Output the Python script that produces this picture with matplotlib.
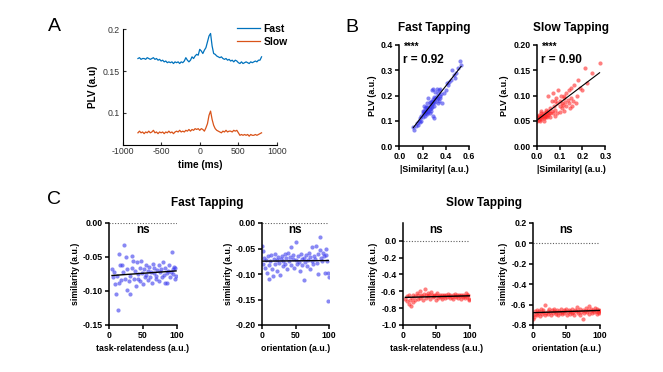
import numpy as np
import matplotlib
matplotlib.use('Agg')
import matplotlib.pyplot as plt

plt.rcParams['font.family'] = ['Liberation Sans', 'DejaVu Sans']
plt.rcParams['axes.unicode_minus'] = False

# ---- panel A: PLV over time
time_ms = np.arange(-800, 801, 20)
plv_fast = [0.165, 0.166, 0.164, 0.165, 0.165, 0.164, 0.166, 0.165, 0.164, 0.165,
            0.166, 0.164, 0.165, 0.163, 0.164, 0.162, 0.163, 0.161, 0.162, 0.160,
            0.161, 0.160, 0.161, 0.159, 0.161, 0.160, 0.161, 0.159, 0.161, 0.160,
            0.162, 0.166, 0.163, 0.161, 0.163, 0.167, 0.165, 0.168, 0.170, 0.169,
            0.176, 0.174, 0.171, 0.175, 0.178, 0.185, 0.192, 0.195, 0.180, 0.171,
            0.170, 0.168, 0.167, 0.166, 0.167, 0.165, 0.164, 0.165, 0.163, 0.164,
            0.162, 0.163, 0.161, 0.163, 0.162, 0.160, 0.159, 0.161, 0.159, 0.160,
            0.161, 0.160, 0.159, 0.161, 0.160, 0.161, 0.162, 0.161, 0.163, 0.163,
            0.167]
plv_slow = [0.076, 0.078, 0.076, 0.077, 0.075, 0.077, 0.076, 0.078, 0.076, 0.077,
            0.079, 0.076, 0.077, 0.075, 0.077, 0.076, 0.077, 0.075, 0.077, 0.076,
            0.078, 0.076, 0.077, 0.075, 0.077, 0.078, 0.077, 0.079, 0.077, 0.078,
            0.077, 0.079, 0.078, 0.080, 0.078, 0.080, 0.079, 0.081, 0.080, 0.081,
            0.079, 0.081, 0.080, 0.078, 0.082, 0.087, 0.097, 0.102, 0.092, 0.085,
            0.081, 0.079, 0.078, 0.077, 0.076, 0.078, 0.077, 0.079, 0.077, 0.078,
            0.078, 0.077, 0.079, 0.078, 0.079, 0.076, 0.073, 0.074, 0.073, 0.074,
            0.073, 0.074, 0.072, 0.074, 0.073, 0.073, 0.074, 0.073, 0.074, 0.075,
            0.076]

# ---- panel B: PLV vs |similarity|
sim_fast = [0.12, 0.13, 0.14, 0.15, 0.16, 0.17, 0.18, 0.18, 0.19, 0.19, 0.20, 0.20, 0.21, 0.21,
            0.21, 0.22, 0.22, 0.22, 0.23, 0.23, 0.23, 0.24, 0.24, 0.24, 0.25, 0.25, 0.25, 0.25,
            0.26, 0.26, 0.26, 0.27, 0.27, 0.27, 0.28, 0.28, 0.28, 0.28, 0.29, 0.29, 0.29, 0.29,
            0.30, 0.30, 0.30, 0.30, 0.31, 0.31, 0.31, 0.32, 0.32, 0.32, 0.33, 0.33, 0.33, 0.34,
            0.34, 0.35, 0.35, 0.36, 0.37, 0.38, 0.40, 0.41, 0.42, 0.44, 0.45, 0.47, 0.49, 0.50,
            0.52, 0.53, 0.48, 0.43, 0.26, 0.24, 0.23, 0.20, 0.27, 0.35]
plv_b_fast = [0.075, 0.062, 0.078, 0.090, 0.085, 0.100, 0.095, 0.110, 0.120, 0.100, 0.130, 0.115, 0.140, 0.125,
              0.160, 0.135, 0.150, 0.120, 0.140, 0.130, 0.155, 0.145, 0.125, 0.170, 0.140, 0.135, 0.150, 0.190,
              0.130, 0.160, 0.145, 0.150, 0.175, 0.140, 0.180, 0.155, 0.220, 0.165, 0.170, 0.185, 0.225, 0.120,
              0.180, 0.195, 0.160, 0.110, 0.190, 0.215, 0.175, 0.225, 0.185, 0.200, 0.210, 0.170, 0.190, 0.220,
              0.180, 0.200, 0.225, 0.205, 0.170, 0.210, 0.220, 0.250, 0.240, 0.260, 0.300, 0.280, 0.290, 0.310,
              0.335, 0.320, 0.270, 0.255, 0.175, 0.155, 0.135, 0.140, 0.165, 0.190]
sim_slow = [0.000, 0.000, 0.005, 0.010, 0.010, 0.010, 0.015, 0.015, 0.020, 0.020, 0.020, 0.025, 0.025,
            0.030, 0.030, 0.030, 0.035, 0.035, 0.040, 0.040, 0.040, 0.045, 0.045, 0.050, 0.050, 0.050,
            0.055, 0.060, 0.060, 0.065, 0.065, 0.070, 0.070, 0.075, 0.080, 0.080, 0.085, 0.090, 0.090,
            0.095, 0.100, 0.100, 0.100, 0.105, 0.110, 0.110, 0.115, 0.120, 0.120, 0.125, 0.130, 0.130,
            0.135, 0.140, 0.140, 0.145, 0.150, 0.150, 0.155, 0.160, 0.165, 0.170, 0.175, 0.180, 0.190,
            0.200, 0.210, 0.220, 0.240, 0.275, 0.030, 0.060, 0.020, 0.080, 0.120]
plv_b_slow = [0.050, 0.060, 0.055, 0.052, 0.058, 0.062, 0.050, 0.056, 0.060, 0.053, 0.065, 0.058, 0.062,
              0.055, 0.066, 0.060, 0.063, 0.057, 0.068, 0.060, 0.072, 0.064, 0.058, 0.070, 0.062, 0.100,
              0.066, 0.075, 0.058, 0.070, 0.090, 0.065, 0.105, 0.080, 0.060, 0.072, 0.095, 0.085, 0.065,
              0.110, 0.080, 0.068, 0.090, 0.100, 0.075, 0.085, 0.082, 0.095, 0.070, 0.088, 0.105, 0.080,
              0.092, 0.085, 0.110, 0.075, 0.095, 0.115, 0.080, 0.090, 0.120, 0.085, 0.100, 0.130, 0.115,
              0.110, 0.155, 0.125, 0.145, 0.165, 0.050, 0.065, 0.070, 0.090, 0.100]

# ---- panel C: similarity vs task-relatedness / orientation
task_rel = [4, 6, 7, 9, 10, 11, 13, 14, 15, 16, 18, 19, 21, 22, 23, 25, 26, 27, 29, 30,
            31, 33, 34, 35, 37, 38, 39, 41, 42, 43, 45, 46, 47, 49, 50, 51, 53, 54, 55, 57,
            58, 59, 61, 62, 63, 65, 66, 67, 69, 70, 71, 73, 74, 75, 77, 78, 79, 81, 82, 83,
            85, 86, 87, 89, 90, 91, 93, 94, 95, 96, 97, 98, 99]
orientation = [0, 1, 2, 3, 5, 6, 7, 9, 10, 11, 12, 14, 15, 16, 18, 19, 20, 22, 23, 24,
               26, 27, 28, 30, 31, 32, 34, 35, 36, 38, 39, 40, 42, 43, 44, 46, 47, 48, 50, 51,
               52, 54, 55, 56, 58, 59, 60, 62, 63, 64, 66, 67, 68, 70, 71, 72, 74, 75, 76, 78,
               79, 80, 82, 83, 84, 86, 87, 88, 90, 91, 92, 94, 95, 96, 97, 98, 99, 100]
sim_fast_task = [-0.068, -0.080, -0.072, -0.090, -0.105, -0.078, -0.128, -0.046, -0.088, -0.062,
                 -0.084, -0.062, -0.072, -0.032, -0.082, -0.050, -0.098, -0.068, -0.085, -0.105,
                 -0.078, -0.048, -0.066, -0.056, -0.083, -0.070, -0.092, -0.058, -0.075, -0.082,
                 -0.066, -0.086, -0.056, -0.073, -0.090, -0.068, -0.079, -0.062, -0.076, -0.084,
                 -0.070, -0.065, -0.080, -0.072, -0.088, -0.060, -0.074, -0.066, -0.082, -0.078,
                 -0.069, -0.062, -0.086, -0.072, -0.068, -0.080, -0.058, -0.076, -0.088, -0.066,
                 -0.074, -0.088, -0.070, -0.062, -0.080, -0.072, -0.043, -0.068, -0.075, -0.064,
                 -0.082, -0.066, -0.078]
sim_fast_orient = [-0.046, -0.055, -0.080, -0.068, -0.088, -0.072, -0.098, -0.064, -0.082, -0.110,
                   -0.075, -0.062, -0.090, -0.104, -0.070, -0.080, -0.060, -0.095, -0.072, -0.066,
                   -0.078, -0.102, -0.070, -0.064, -0.085, -0.074, -0.060, -0.080, -0.068, -0.090,
                   -0.058, -0.075, -0.066, -0.082, -0.048, -0.070, -0.062, -0.088, -0.038, -0.072,
                   -0.080, -0.064, -0.076, -0.095, -0.060, -0.070, -0.082, -0.112, -0.068, -0.076,
                   -0.062, -0.085, -0.072, -0.058, -0.090, -0.066, -0.074, -0.048, -0.080, -0.064,
                   -0.070, -0.045, -0.078, -0.060, -0.100, -0.052, -0.028, -0.068, -0.074, -0.058,
                   -0.064, -0.098, -0.050, -0.062, -0.075, -0.152, -0.098, -0.105]
sim_slow_task = [-0.690, -0.660, -0.720, -0.750, -0.640, -0.700, -0.770, -0.680, -0.730, -0.640,
                 -0.700, -0.660, -0.620, -0.690, -0.650, -0.600, -0.680, -0.640, -0.660, -0.700,
                 -0.630, -0.570, -0.650, -0.680, -0.620, -0.660, -0.640, -0.690, -0.610, -0.650,
                 -0.670, -0.640, -0.660, -0.700, -0.650, -0.620, -0.680, -0.660, -0.640, -0.670,
                 -0.650, -0.690, -0.660, -0.640, -0.680, -0.650, -0.670, -0.630, -0.660, -0.680,
                 -0.640, -0.670, -0.650, -0.690, -0.660, -0.630, -0.670, -0.650, -0.680, -0.640,
                 -0.660, -0.690, -0.650, -0.670, -0.640, -0.660, -0.680, -0.620, -0.650, -0.670,
                 -0.640, -0.700, -0.690]
sim_slow_orient = [-0.740, -0.700, -0.720, -0.660, -0.690, -0.650, -0.700, -0.680, -0.660, -0.710,
                   -0.640, -0.690, -0.670, -0.650, -0.700, -0.600, -0.680, -0.660, -0.690, -0.640,
                   -0.670, -0.700, -0.650, -0.680, -0.660, -0.640, -0.690, -0.670, -0.650, -0.700,
                   -0.660, -0.680, -0.640, -0.670, -0.690, -0.650, -0.680, -0.660, -0.640, -0.700,
                   -0.670, -0.650, -0.690, -0.660, -0.680, -0.640, -0.670, -0.700, -0.650, -0.660,
                   -0.620, -0.680, -0.660, -0.700, -0.640, -0.670, -0.650, -0.740, -0.680, -0.660,
                   -0.630, -0.670, -0.650, -0.690, -0.610, -0.660, -0.640, -0.680, -0.650, -0.670,
                   -0.630, -0.660, -0.690, -0.640, -0.670, -0.650, -0.680, -0.660]

BLUE_PTS = '#3a3aee'
RED_PTS = '#ff2a2a'

fig = plt.figure(figsize=(6.63, 3.72), dpi=100)
W, H = 663, 372


def add_ax(x0, x1, y_top, y_bot):
    # pixel box -> figure fraction
    return fig.add_axes([x0 / W, 1 - y_bot / H, (x1 - x0) / W, (y_bot - y_top) / H])


def prism_style(ax):
    for s in ['top', 'right']:
        ax.spines[s].set_visible(False)
    for s in ['left', 'bottom']:
        ax.spines[s].set_linewidth(1.1)
    ax.tick_params(direction='out', length=3, width=1.1, labelsize=6.3, pad=1.5)
    for lab in ax.get_xticklabels() + ax.get_yticklabels():
        lab.set_fontweight('bold')


def fig_text(x, y, s, **kw):
    fig.text(x / W, 1 - y / H, s, **kw)


# ---- A
axA = add_ax(122.5, 277, 29.3, 144.5)
axA.plot(time_ms, plv_fast, color='#0072BD', lw=0.9, label='Fast')
axA.plot(time_ms, plv_slow, color='#D95319', lw=0.9, label='Slow')
axA.set_xlim(-1000, 1000)
axA.set_ylim(0.062, 0.2)
axA.set_xticks([-1000, -500, 0, 500, 1000])
axA.set_yticks([0.1, 0.15, 0.2])
axA.set_yticklabels(['0.1', '0.15', '0.2'])
for s in ['top', 'right']:
    axA.spines[s].set_visible(False)
for s in ['left', 'bottom']:
    axA.spines[s].set_linewidth(0.8)
axA.tick_params(direction='in', length=2.5, width=0.8, labelsize=6.3, colors='#333333', pad=2)
axA.set_xlabel('time (ms)', fontsize=7.2, fontweight='bold', labelpad=2.5)
axA.set_ylabel('PLV (a.u)', fontsize=7.2, fontweight='bold', labelpad=3)
axA.legend(loc='upper right', bbox_to_anchor=(288 / W, 1 - 24 / H), bbox_transform=fig.transFigure,
           frameon=False, prop={'weight': 'bold', 'size': 7.5}, handlelength=2.2,
           borderaxespad=0, borderpad=0, labelspacing=0.3, handletextpad=0.4)

# ---- B
b_specs = [
    (399.3, 469.3, sim_fast, plv_b_fast, BLUE_PTS, 'Fast Tapping', 'r = 0.92',
     (0, 0.6), [0, 0.2, 0.4, 0.6], (0, 0.4), [0, 0.1, 0.2, 0.3, 0.4], '%.1f', '%.1f'),
    (536.7, 605.3, sim_slow, plv_b_slow, RED_PTS, 'Slow Tapping', 'r = 0.90',
     (0, 0.3), [0, 0.1, 0.2, 0.3], (0, 0.2), [0, 0.05, 0.1, 0.15, 0.2], '%.1f', '%.2f'),
]
for x0, x1, xs, ys, col, title, rtxt, xl, xt, yl, yt, xf, yf in b_specs:
    ax = add_ax(x0, x1, 45, 146)
    ax.scatter(xs, ys, s=9, color=col, alpha=0.6, linewidths=0)
    k, b = np.polyfit(xs, ys, 1)
    xx = np.array([min(xs), max(xs)])
    ax.plot(xx, k * xx + b, color='black', lw=0.8)
    ax.set_xlim(*xl)
    ax.set_ylim(*yl)
    ax.set_xticks(xt)
    ax.set_xticklabels([xf % v for v in xt])
    ax.set_yticks(yt)
    ax.set_yticklabels([yf % v for v in yt])
    prism_style(ax)
    ax.set_xlabel('|Similarity| (a.u.)', fontsize=6.4, fontweight='bold', labelpad=3)
    ax.set_ylabel('PLV (a.u.)', fontsize=6.4, fontweight='bold', labelpad=3)
    ax.set_title(title, fontsize=8.5, fontweight='bold', pad=10)
    ax.text(0.07, 0.985, '****', transform=ax.transAxes, fontsize=7, fontweight='bold', va='center')
    ax.text(0.06, 0.855, rtxt, transform=ax.transAxes, fontsize=8.5, fontweight='bold', va='center')

# ---- C
c_specs = [
    (109.3, 176.7, task_rel, sim_fast_task, BLUE_PTS, 'task-relatendess (a.u.)',
     (-0.15, 0.0), [0.0, -0.05, -0.10, -0.15], '%.2f'),
    (262.0, 329.0, orientation, sim_fast_orient, BLUE_PTS, 'orientation (a.u.)',
     (-0.20, 0.0), [0.0, -0.05, -0.10, -0.15, -0.20], '%.2f'),
    (402.7, 470.0, task_rel, sim_slow_task, RED_PTS, 'task-relatendess (a.u.)',
     (-1.0, 0.21), [0.0, -0.2, -0.4, -0.6, -0.8, -1.0], '%.1f'),
    (532.7, 600.0, orientation, sim_slow_orient, RED_PTS, 'orientation (a.u.)',
     (-0.8, 0.2), [0.2, 0.0, -0.2, -0.4, -0.6, -0.8], '%.1f'),
]
for x0, x1, xs, ys, col, xlab, yl, yt, yf in c_specs:
    ax = add_ax(x0, x1, 223, 325)
    ax.axhline(0, color='#606060', lw=0.8, ls=(0, (1, 1.5)))
    ax.scatter(xs, ys, s=9, color=col, alpha=0.6, linewidths=0)
    k, b = np.polyfit(xs, ys, 1)
    xx = np.array([min(xs), max(xs)])
    ax.plot(xx, k * xx + b, color='black', lw=1.0)
    ax.set_xlim(0, 100)
    ax.set_ylim(*yl)
    ax.set_xticks([0, 50, 100])
    ax.set_yticks(yt)
    ax.set_yticklabels([(yf % v).replace('-0.00', '0.00') for v in yt])
    prism_style(ax)
    ax.set_xlabel(xlab, fontsize=6.3, fontweight='bold', labelpad=3)
    ax.set_ylabel('similarity (a.u.)', fontsize=6.3, fontweight='bold', labelpad=2)
    ax.text(0.5, 0.93, 'ns', transform=ax.transAxes, ha='center', va='center',
            fontsize=8.5, fontweight='bold')

fig_text(207.5, 203.5, 'Fast Tapping', ha='center', va='center', fontsize=8.5, fontweight='bold')
fig_text(484, 203.5, 'Slow Tapping', ha='center', va='center', fontsize=8.5, fontweight='bold')

# panel letters
fig_text(54, 26.5, 'A', ha='center', va='center', fontsize=14)
fig_text(352, 27.5, 'B', ha='center', va='center', fontsize=14)
fig_text(54, 199.5, 'C', ha='center', va='center', fontsize=14)

fig.savefig('out.png', dpi=100)
